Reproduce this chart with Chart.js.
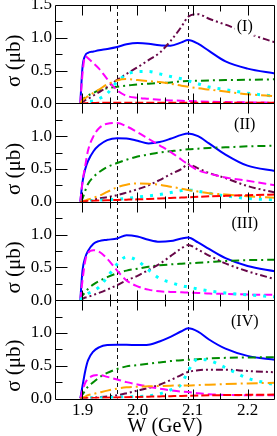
<!DOCTYPE html>
<html><head><meta charset="utf-8">
<script src="https://cdn.jsdelivr.net/npm/chart.js@4/dist/chart.umd.min.js"></script>
<style>html,body{margin:0;padding:0;background:#fff;}</style>
</head><body>
<canvas id="c" width="277" height="436"></canvas>
<script>
// ---- data ----
const W = [1.896, 1.9, 1.905, 1.91, 1.92, 1.93, 1.945, 1.963, 1.98, 2.0, 2.02, 2.04, 2.06, 2.08, 2.092, 2.11, 2.13, 2.16, 2.2, 2.25];
const xTickValues = [1.9, 2.0, 2.1, 2.2];
const xMinorTicks = [1.95, 2.05, 2.15];
const yTicksTop = [0, 0.5, 1.0, 1.5];
const yTicks = [0, 0.5, 1.0];
const yMinorTicks = [0.25, 0.75, 1.25];
const thresholds = [1.963, 2.092];
const panelLabels = ['(I)', '(II)', '(III)', '(IV)'];

// Panel I
const blue1    = [0, 0.55, 0.73, 0.77, 0.79, 0.81, 0.83, 0.86, 0.90, 0.92, 0.91, 0.885, 0.88, 0.93, 0.965, 0.91, 0.80, 0.64, 0.53, 0.455];
const magenta1 = [0, 0.45, 0.72, 0.69, 0.61, 0.53, 0.37, 0.2, 0.115, 0.085, 0.07, 0.055, 0.045, 0.04, 0.035, 0.03, 0.025, 0.02, 0.015, 0.01];
const green1   = [0, 0.06, 0.09, 0.12, 0.16, 0.2, 0.23, 0.255, 0.27, 0.29, 0.3, 0.31, 0.32, 0.335, 0.34, 0.345, 0.35, 0.355, 0.36, 0.367];
const orange1  = [0, 0.05, 0.08, 0.11, 0.16, 0.21, 0.29, 0.35, 0.37, 0.355, 0.34, 0.325, 0.3, 0.27, 0.255, 0.23, 0.21, 0.18, 0.14, 0.11];
const cyan1    = [0, 0.01, 0.02, 0.03, 0.035, 0.07, 0.15, 0.33, 0.44, 0.485, 0.485, 0.45, 0.41, 0.375, 0.345, 0.3, 0.25, 0.21, 0.155, 0.11];
const purple1  = [0, 0.02, 0.05, 0.07, 0.12, 0.17, 0.25, 0.36, 0.45, 0.55, 0.66, 0.77, 0.95, 1.17, 1.32, 1.36, 1.29, 1.2, 1.07, 0.93];
const red1     = [0, 0, 0.002, 0.004, 0.006, 0.008, 0.01, 0.01, 0.01, 0.01, 0.01, 0.01, 0.01, 0.01, 0.01, 0.01, 0.01, 0.01, 0.01, 0.01];

// Panel II
const blue2    = [0, 0.3, 0.5, 0.62, 0.77, 0.86, 0.94, 0.97, 0.965, 0.93, 0.89, 0.91, 0.96, 1.02, 1.04, 1.0, 0.89, 0.72, 0.55, 0.47];
const magenta2 = [0, 0.3, 0.55, 0.78, 1.0, 1.12, 1.19, 1.2, 1.15, 1.06, 0.96, 0.86, 0.76, 0.64, 0.57, 0.48, 0.43, 0.37, 0.32, 0.25];
const green2   = [0, 0.05, 0.17, 0.27, 0.38, 0.45, 0.53, 0.59, 0.64, 0.69, 0.72, 0.75, 0.77, 0.79, 0.8, 0.81, 0.82, 0.83, 0.845, 0.855];
const orange2  = [0, 0.005, 0.02, 0.035, 0.06, 0.09, 0.15, 0.22, 0.26, 0.28, 0.275, 0.26, 0.23, 0.2, 0.18, 0.155, 0.13, 0.11, 0.085, 0.06];
const cyan2    = [0, 0, 0.005, 0.01, 0.015, 0.02, 0.03, 0.04, 0.05, 0.07, 0.09, 0.11, 0.14, 0.17, 0.18, 0.16, 0.13, 0.09, 0.05, 0.03];
const purple2  = [0, 0.005, 0.01, 0.02, 0.03, 0.05, 0.07, 0.1, 0.14, 0.19, 0.25, 0.33, 0.42, 0.5, 0.57, 0.51, 0.44, 0.36, 0.24, 0.14];
const red2     = [0, 0.003, 0.006, 0.01, 0.014, 0.018, 0.023, 0.028, 0.032, 0.037, 0.043, 0.05, 0.057, 0.064, 0.068, 0.075, 0.082, 0.09, 0.1, 0.11];

// Panel III
const blue3    = [0, 0.45, 0.65, 0.75, 0.86, 0.9, 0.92, 0.94, 0.99, 0.97, 0.92, 0.89, 0.9, 0.94, 0.955, 0.88, 0.78, 0.64, 0.52, 0.44];
const magenta3 = [0, 0.3, 0.6, 0.72, 0.76, 0.74, 0.63, 0.45, 0.3, 0.21, 0.16, 0.135, 0.125, 0.12, 0.115, 0.11, 0.1, 0.095, 0.085, 0.08];
const green3   = [0, 0.07, 0.12, 0.17, 0.24, 0.29, 0.35, 0.41, 0.45, 0.48, 0.51, 0.53, 0.545, 0.555, 0.56, 0.57, 0.58, 0.595, 0.61, 0.615];
const cyan3    = [0, 0.04, 0.07, 0.1, 0.14, 0.2, 0.35, 0.55, 0.66, 0.6, 0.46, 0.33, 0.27, 0.22, 0.2, 0.17, 0.14, 0.11, 0.08, 0.05];
const purple3  = [0, 0.02, 0.04, 0.05, 0.08, 0.11, 0.16, 0.23, 0.3, 0.37, 0.46, 0.55, 0.67, 0.79, 0.84, 0.77, 0.68, 0.56, 0.44, 0.32];

// Panel IV
const blue4    = [0, 0.19, 0.42, 0.58, 0.72, 0.78, 0.815, 0.82, 0.82, 0.815, 0.82, 0.87, 0.94, 1.025, 1.07, 1.02, 0.9, 0.76, 0.65, 0.59];
const magenta4 = [0, 0.12, 0.24, 0.3, 0.35, 0.36, 0.33, 0.29, 0.25, 0.215, 0.18, 0.15, 0.125, 0.105, 0.1, 0.08, 0.065, 0.055, 0.05, 0.05];
const green4   = [0, 0.06, 0.12, 0.18, 0.25, 0.32, 0.39, 0.45, 0.49, 0.51, 0.53, 0.55, 0.57, 0.585, 0.59, 0.6, 0.61, 0.62, 0.625, 0.63];
const orange4  = [0, 0.01, 0.03, 0.05, 0.07, 0.09, 0.12, 0.15, 0.17, 0.18, 0.185, 0.19, 0.195, 0.2, 0.2, 0.205, 0.21, 0.22, 0.23, 0.24];
const cyan4    = [0, 0, 0, 0.005, 0.01, 0.01, 0.015, 0.02, 0.025, 0.03, 0.04, 0.07, 0.13, 0.22, 0.42, 0.6, 0.58, 0.47, 0.31, 0.21];
const purple4  = [0, 0, 0.005, 0.01, 0.015, 0.02, 0.03, 0.05, 0.08, 0.12, 0.16, 0.21, 0.28, 0.36, 0.405, 0.43, 0.44, 0.44, 0.42, 0.4];
const red4     = [0, 0.002, 0.004, 0.006, 0.008, 0.01, 0.013, 0.017, 0.02, 0.024, 0.028, 0.032, 0.036, 0.04, 0.042, 0.045, 0.048, 0.052, 0.056, 0.06];

// ---- styles ----
const STY = {
  red:     {color:'#ff0000', dash:[8,3], width:2},
  orange:  {color:'#ffa500', dash:[11,4,2,4], width:2},
  cyan:    {color:'#00ffff', dash:[3,7], width:3},
  magenta: {color:'#ff00ff', dash:[8,4], width:2},
  purple:  {color:'#670748', dash:[7,3,2,3,2,3], width:2},
  green:   {color:'#008b00', dash:[8,4,2,4], width:2},
  blue:    {color:'#0000ff', dash:[], width:2}
};
const panels = [
  {red:red1, orange:orange1, cyan:cyan1, magenta:magenta1, purple:purple1, green:green1, blue:blue1},
  {red:red2, orange:orange2, cyan:cyan2, magenta:magenta2, purple:purple2, green:green2, blue:blue2},
  {cyan:cyan3, magenta:magenta3, purple:purple3, green:green3, blue:blue3},
  {red:red4, orange:orange4, cyan:cyan4, magenta:magenta4, purple:purple4, green:green4, blue:blue4}
];

const datasets = [];
panels.forEach((p, i) => {
  Object.keys(p).forEach(k => {
    const s = STY[k];
    datasets.push({
      label: k + (i+1),
      data: W.map((w, j) => ({x: w, y: p[k][j]})),
      yAxisID: 'y' + (i+1),
      borderColor: s.color, borderDash: s.dash, borderWidth: s.width,
      borderCapStyle: 'butt',
      pointRadius: 0, fill: false, cubicInterpolationMode: 'monotone'
    });
  });
});

const SERIF = '"Liberation Serif", "Times New Roman", serif';
const scales = {
  x: {
    type: 'linear', min: 1.85, max: 2.25, position: 'bottom',
    afterBuildTicks: s => { s.ticks = xTickValues.map(v => ({value: v})); },
    afterFit: s => { s.height = 37.5; s.paddingLeft = 0; s.paddingRight = 0; },
    grid: {display: false, drawTicks: false}, border: {display: false},
    ticks: {font: {family: SERIF, size: 17}, color: '#000', padding: 2, maxRotation: 0, autoSkip: false,
            callback: v => Number(v).toFixed(1)}
  }
};
panels.forEach((p, i) => {
  scales['y' + (i+1)] = {
    type: 'linear', min: 0, max: 1.5, position: 'left', stack: 'panels', stackWeight: 1, weight: 4 - i,
    afterBuildTicks: s => { s.ticks = (i === 0 ? yTicksTop : yTicks).map(v => ({value: v})); },
    afterFit: s => { s.width = 55; s.paddingTop = 0; s.paddingBottom = 0; },
    grid: {display: false, drawTicks: false}, border: {display: false},
    ticks: {font: {family: SERIF, size: 17}, color: '#000', padding: 3, autoSkip: false,
            callback: v => Number(v).toFixed(1)}
  };
});

const decor = {
  id: 'decor',
  beforeDatasetsDraw(chart) {
    const ctx = chart.ctx, xs = chart.scales.x, a = chart.chartArea;
    ctx.save();
    ctx.strokeStyle = '#111'; ctx.lineWidth = 1; ctx.setLineDash([4, 3]);
    thresholds.forEach(w => {
      const px = Math.round(xs.getPixelForValue(w)) + 0.5;
      ctx.beginPath(); ctx.moveTo(px, a.top); ctx.lineTo(px, a.bottom); ctx.stroke();
    });
    ctx.restore();
  },
  afterDatasetsDraw(chart) {
    const ctx = chart.ctx, xs = chart.scales.x, a = chart.chartArea;
    const L = Math.round(a.left) + 0.5, R = Math.round(a.right) - 0.5;
    ctx.save();
    ctx.setLineDash([]);
    ctx.strokeStyle = '#000'; ctx.lineWidth = 1;
    panels.forEach((p, i) => {
      const ys = chart.scales['y' + (i+1)];
      const T = Math.round(ys.top) + 0.5, B = Math.round(ys.bottom) + 0.5;
      // frame
      ctx.beginPath();
      ctx.moveTo(L, T); ctx.lineTo(R, T); ctx.lineTo(R, B); ctx.lineTo(L, B); ctx.closePath();
      ctx.stroke();
      // x ticks top & bottom
      const xt = (vals, len) => vals.forEach(v => {
        const px = Math.round(xs.getPixelForValue(v)) + 0.5;
        ctx.beginPath(); ctx.moveTo(px, T); ctx.lineTo(px, T + len);
        ctx.moveTo(px, B); ctx.lineTo(px, B - len); ctx.stroke();
      });
      xt(xTickValues, 10); xt(xMinorTicks, 6);
      // y ticks
      const yt = (vals, len) => vals.forEach(v => {
        const py = Math.round(ys.getPixelForValue(v)) + 0.5;
        ctx.beginPath(); ctx.moveTo(L, py); ctx.lineTo(L + len, py); ctx.stroke();
      });
      yt([0.5, 1.0], 12); yt(yMinorTicks, 7);
      // panel label
      ctx.font = '16px ' + SERIF;
      ctx.textAlign = 'center'; ctx.textBaseline = 'middle';
      const lx = xs.getPixelForValue(2.195), ly = ys.getPixelForValue(1.17);
      const tw = ctx.measureText(panelLabels[i]).width;
      ctx.fillStyle = '#fff'; ctx.fillRect(lx - tw/2 - 2, ly - 9, tw + 4, 18);
      ctx.fillStyle = '#000'; ctx.fillText(panelLabels[i], lx, ly);
      // y title
      ctx.save();
      ctx.font = '21px ' + SERIF;
      ctx.translate(14, ys.getPixelForValue(i === 0 ? 0.65 : 0.5));
      ctx.rotate(-Math.PI / 2);
      ctx.fillText('σ (μb)', 0, 0);
      ctx.restore();
    });
    // x title
    ctx.font = '20px ' + SERIF; ctx.textAlign = 'center'; ctx.textBaseline = 'middle'; ctx.fillStyle = '#000';
    ctx.fillText('W (GeV)', (a.left + a.right) / 2, 427);
    ctx.restore();
  }
};

new Chart(document.getElementById('c'), {
  type: 'line',
  data: {datasets},
  options: {
    responsive: false, animation: false, devicePixelRatio: 1,
    layout: {padding: {top: 5, right: 2, left: 0, bottom: 0}},
    plugins: {legend: {display: false}, tooltip: {enabled: false}},
    scales
  },
  plugins: [decor]
});
</script>
</body></html>
